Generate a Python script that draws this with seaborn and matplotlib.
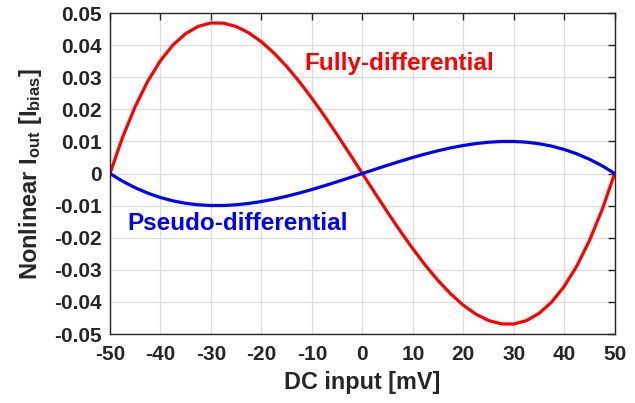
import matplotlib
matplotlib.use("Agg")
import matplotlib.pyplot as plt
import seaborn as sns
import pandas as pd

# DC input sweep [mV]
dc_input = [-50, -47.5, -45, -42.5, -40, -37.5, -35, -32.5, -30, -27.5, -25,
            -22.5, -20, -17.5, -15, -12.5, -10, -7.5, -5, -2.5, 0,
            2.5, 5, 7.5, 10, 12.5, 15, 17.5, 20, 22.5, 25,
            27.5, 30, 32.5, 35, 37.5, 40, 42.5, 45, 47.5, 50]

# Nonlinear output current [I_bias], fully-differential
fully_diff = [0.0, 0.01131, 0.02088, 0.02880, 0.03517, 0.04007, 0.04359, 0.04584,
              0.04689, 0.04684, 0.04579, 0.04382, 0.04103, 0.03750, 0.03334,
              0.02862, 0.02345, 0.01790, 0.01209, 0.00609, 0.0,
              -0.00609, -0.01209, -0.01790, -0.02345, -0.02862, -0.03334,
              -0.03750, -0.04103, -0.04382, -0.04579, -0.04684, -0.04689,
              -0.04584, -0.04359, -0.04007, -0.03517, -0.02880, -0.02088,
              -0.01131, 0.0]

# Nonlinear output current [I_bias], pseudo-differential
pseudo_diff = [0.0, -0.00241, -0.00444, -0.00613, -0.00748, -0.00853, -0.00928,
               -0.00975, -0.00998, -0.00997, -0.00974, -0.00932, -0.00873,
               -0.00798, -0.00709, -0.00609, -0.00499, -0.00381, -0.00257,
               -0.00130, 0.0,
               0.00130, 0.00257, 0.00381, 0.00499, 0.00609, 0.00709, 0.00798,
               0.00873, 0.00932, 0.00974, 0.00997, 0.00998, 0.00975, 0.00928,
               0.00853, 0.00748, 0.00613, 0.00444, 0.00241, 0.0]

x_ticks = [-50, -40, -30, -20, -10, 0, 10, 20, 30, 40, 50]
y_ticks = [-0.05, -0.04, -0.03, -0.02, -0.01, 0, 0.01, 0.02, 0.03, 0.04, 0.05]
y_tick_labels = ["-0.05", "-0.04", "-0.03", "-0.02", "-0.01", "0",
                 "0.01", "0.02", "0.03", "0.04", "0.05"]

sns.set_style("white")
plt.rcParams["font.family"] = ["Liberation Sans", "DejaVu Sans"]
plt.rcParams["font.weight"] = "bold"
plt.rcParams["mathtext.fontset"] = "custom"
plt.rcParams["mathtext.rm"] = "Liberation Sans:bold"
plt.rcParams["mathtext.bf"] = "Liberation Sans:bold"
plt.rcParams["mathtext.it"] = "Liberation Sans:bold"

dark = "#262626"

df = pd.DataFrame({"x": dc_input, "full": fully_diff, "pseudo": pseudo_diff})

fig = plt.figure(figsize=(6.35, 4.03), dpi=100)
ax = fig.add_axes([110 / 635, 1 - 334 / 403, (614.7 - 110) / 635, (334 - 13) / 403])

line_kw = dict(linewidth=2.3, solid_joinstyle="round", solid_capstyle="round")
sns.lineplot(data=df, x="x", y="full", ax=ax, color="#ff0000", **line_kw)
sns.lineplot(data=df, x="x", y="pseudo", ax=ax, color="#0000ff", **line_kw)

ax.set_xlim(-50, 50)
ax.set_ylim(-0.05, 0.05)
ax.set_xticks(x_ticks)
ax.set_xticklabels([str(t) for t in x_ticks])
ax.set_yticks(y_ticks)
ax.set_yticklabels(y_tick_labels)

ax.grid(True, color="#dcdcdc", linewidth=0.9)
ax.set_axisbelow(True)
for side in ["left", "right", "top", "bottom"]:
    ax.spines[side].set_visible(True)
    ax.spines[side].set_color(dark)
    ax.spines[side].set_linewidth(1.0)

ax.tick_params(axis="both", direction="in", length=5, width=1.0, color=dark,
               labelsize=15, labelcolor=dark, top=True, right=True)
ax.tick_params(axis="x", pad=8)
ax.tick_params(axis="y", pad=6)
for lbl in ax.get_xticklabels() + ax.get_yticklabels():
    lbl.set_fontweight("bold")

ax.set_xlabel("DC input [mV]", fontsize=16.8, fontweight="bold", color=dark, labelpad=5)
ax.set_ylabel(r"Nonlinear I$_{\mathbf{out}}$ [I$_{\mathbf{bias}}$]", fontsize=17,
              fontweight="bold", color=dark, labelpad=7)

ax.text(-11.4, 0.0344, "Fully-differential", color="#ff0000", fontsize=17.5,
        fontweight="bold", va="center", ha="left")
ax.text(-46.6, -0.0157, "Pseudo-differential", color="#0000ff", fontsize=17.5,
        fontweight="bold", va="center", ha="left")

fig.savefig("out.png", dpi=100)
